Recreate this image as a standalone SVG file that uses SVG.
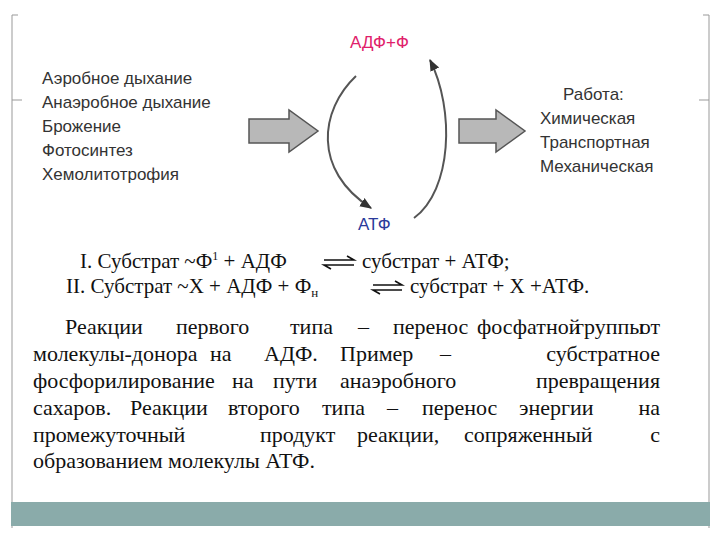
<svg xmlns="http://www.w3.org/2000/svg" width="720" height="540" viewBox="0 0 720 540">
<style>
.s{font-family:"Liberation Sans",Arial,sans-serif;font-size:17px;fill:#333}
.t{font-family:"Liberation Serif","Times New Roman",serif;font-size:21px;fill:#111}
.e{text-anchor:end}
.c{fill:none;stroke:#555;stroke-width:2}
.blk{fill:#b8b8b8;stroke:#555;stroke-width:1.5}
.eq{fill:none;stroke:#111;stroke-width:1.6}
</style>
<defs>
<marker id="ah" viewBox="0 0 10 10" refX="9" refY="5" markerWidth="6" markerHeight="6" orient="auto" markerUnits="strokeWidth"><path d="M0,1 L10,5 L0,9 Z" fill="#333"/></marker>
</defs>
<rect width="720" height="540" fill="#fff"/>
<g id="frame" fill="none" stroke="#999" stroke-width="1">
<path d="M12,15 V528 M709,15 V528 M12,15 H18 M703,15 H709 M12,100 H22 M699,100 H709"/>
</g>
<rect x="11" y="502" width="699" height="24" fill="#8aabaa"/>
<g id="sources"><text class="s" x="42" y="84">Аэробное дыхание</text><text class="s" x="42" y="108">Анаэробное дыхание</text><text class="s" x="42" y="132">Брожение</text><text class="s" x="42" y="156">Фотосинтез</text><text class="s" x="42" y="180">Хемолитотрофия</text></g>
<g id="work"><text class="s" x="563" y="100">Работа:</text><text class="s" x="540" y="124">Химическая</text><text class="s" x="540" y="148">Транспортная</text><text class="s" x="540" y="172">Механическая</text></g>
<g id="adp"><text class="s" x="350" y="48" style="fill:#e0206a">АДФ+Ф</text></g>
<g id="atp"><text class="s" x="358" y="230" style="fill:#2a3a9a">АТФ</text></g>
<g id="connectors">
<path class="blk" d="M249,119 H289 V110 L318,131 L289,152 V143 H249 Z"/>
<path class="blk" d="M459,119 H496 V110 L525,131 L496,152 V143 H459 Z"/>
<path class="c" d="M356,76 C320,110 312,170 371,208" marker-end="url(#ah)"/>
<path class="c" d="M414,218 C452,190 455,110 430,60" marker-end="url(#ah)"/>
<path class="eq" d="M324,260 H354 L347,256 M354,265 H324 L331,269"/>
<path class="eq" d="M373,285 H402 L395,281 M402,290 H373 L380,294"/>
</g>
<g id="equations">
<text class="t" x="80" y="268">I. Субстрат ~Ф<tspan font-size="12" dy="-8">1</tspan><tspan dy="8"> + АДФ</tspan></text>
<text class="t" x="362" y="268">субстрат + АТФ;</text>
<text class="t" x="66" y="293">II. Субстрат ~X + АДФ + Ф<tspan font-size="13" dy="4">н</tspan></text>
<text class="t" x="410" y="293">субстрат + X +АТФ.</text>
</g>
<g id="paragraph" font-family="Liberation Serif, Times New Roman, serif" font-size="22" fill="#111">
<text y="334"><tspan x="65">Реакции</tspan><tspan x="176">первого</tspan><tspan x="290">типа</tspan><tspan x="358">–</tspan><tspan x="393">перенос</tspan><tspan x="477">фосфатной</tspan><tspan x="575">группы</tspan></text>
<text class="e" x="660" y="334">от</text>
<text y="361"><tspan x="33">молекулы-донора</tspan><tspan x="210">на</tspan><tspan x="264">АДФ.</tspan><tspan x="340">Пример</tspan><tspan x="440">–</tspan></text>
<text class="e" x="660" y="361">субстратное</text>
<text y="388"><tspan x="33">фосфорилирование</tspan><tspan x="232">на</tspan><tspan x="273">пути</tspan><tspan x="340">анаэробного</tspan></text>
<text class="e" x="660" y="388">превращения</text>
<text y="415"><tspan x="33">сахаров.</tspan><tspan x="130">Реакции</tspan><tspan x="228">второго</tspan><tspan x="322">типа</tspan><tspan x="387">–</tspan><tspan x="422">перенос</tspan><tspan x="519">энергии</tspan></text>
<text class="e" x="660" y="415">на</text>
<text y="442"><tspan x="33">промежуточный</tspan><tspan x="260">продукт</tspan><tspan x="357">реакции,</tspan><tspan x="464">сопряженный</tspan></text>
<text class="e" x="660" y="442">с</text>
<text x="33" y="468">образованием молекулы АТФ.</text>
</g>
</svg>
